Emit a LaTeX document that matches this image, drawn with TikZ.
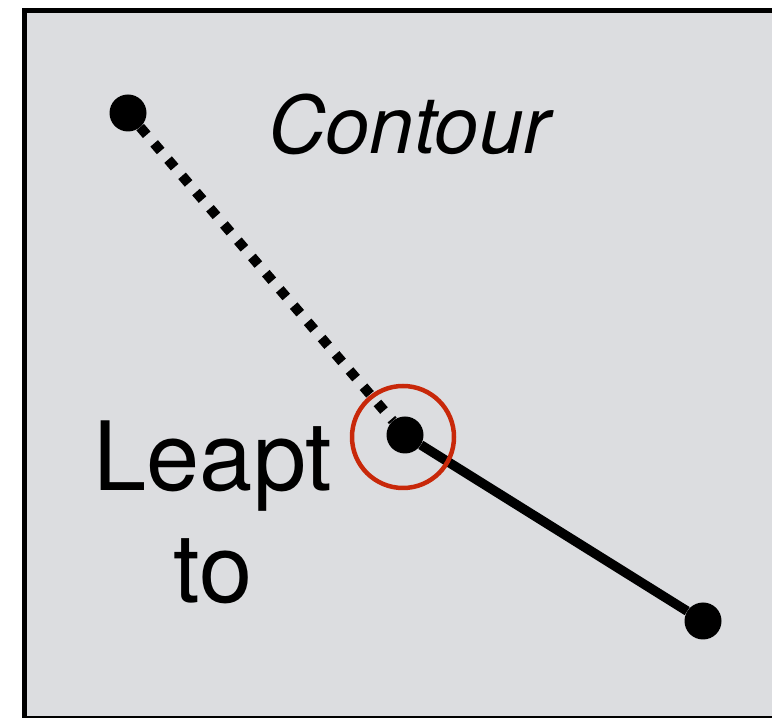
\documentclass[tikz,border=0pt]{standalone}
\usepackage{fontspec}
\setmainfont{TeX Gyre Heros}
\definecolor{panelgray}{RGB}{220,221,224}
\definecolor{ringred}{RGB}{200,40,10}
\tikzset{
	dot/.style={circle, fill=black, inner sep=0pt, minimum size=37bp},
	contourpath/.style={line width=10bp, dash pattern=on 10bp off 11.4bp},
	leappath/.style={line width=9.5bp}
}
\begin{document}
\begin{tikzpicture}[x=1bp, y=1bp]
		\useasboundingbox (0,0) rectangle (772,718);
		\fill[panelgray] (24.5,-0.5) rectangle (790,707.5);
		\draw[line width=5bp] (790,707.5) -- (24.5,707.5) -- (24.5,-0.5) -- (790,-0.5);
		\node[dot] (start) at (128,605) {};
		\node[dot] (leap) at (405,283) {};
		\node[dot] (end) at (703,97) {};
		\draw[contourpath] (start) -- (leap);
		\draw[leappath] (leap) -- (end);
		\node[circle, draw=ringred, line width=4.5bp, inner sep=0pt, minimum size=102bp] (ring) at (403,281) {};
		\node[anchor=base, inner sep=0pt, font=\fontsize{80}{96}\selectfont\itshape] (contour) at (409,564) {Contour};
		\node[anchor=base, inner sep=0pt, align=center, font=\fontsize{96}{113}\selectfont] (leapt) at (213,115) {Leapt\\to};
	\end{tikzpicture}
\end{document}
